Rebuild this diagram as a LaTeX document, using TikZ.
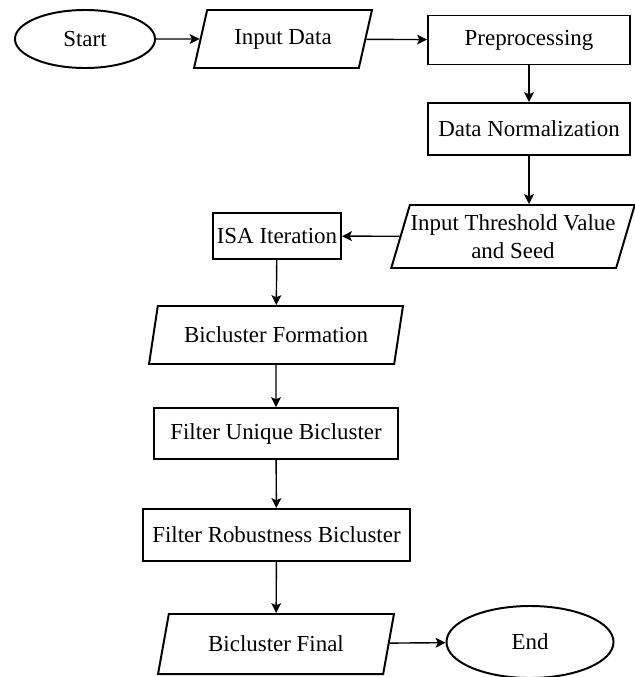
\documentclass[tikz,border=0pt]{standalone}
\usepackage{fontspec}
\setmainfont{Liberation Serif}
\usetikzlibrary{shapes.geometric, arrows, arrows.meta, positioning, calc}
\tikzset{
  terminal/.style={ellipse, draw=black, line width=1.4pt, minimum width=3.5cm, minimum height=1.45cm,
                   inner sep=0pt, text centered},
  proceso/.style={rectangle, draw=black, line width=1.4pt, minimum height=1.25cm, inner sep=0pt,
                  text centered, align=center},
  datos/.style={trapezium, trapezium left angle=67, trapezium right angle=113, trapezium stretches=true,
                draw=black, line width=1.4pt, inner sep=0pt, text centered, align=center},
  arrow/.style={line width=1pt,->,>={Stealth[length=7pt,width=7pt,inset=1.5pt]},color=black}
}
\begin{document}
\begin{tikzpicture}[x=0.025cm, y=-0.025cm, font=\fontsize{16.3}{19.5}\selectfont]
  \useasboundingbox (0,0) rectangle (635,677);
  % Fila superior
  \node (start) [terminal] at (85,39) {Start};
  \node (datain) [datos, minimum width=4.45cm, minimum height=1.45cm] at (283,39) {Input Data};
  \node (prep) [proceso, minimum width=5.05cm, minimum height=1.225cm] at (529,40) {Preprocessing};
  \node (dnorm) [proceso, minimum width=5.05cm, minimum height=1.3cm] at (529,129) {Data Normalization};
  \node (thresh) [datos, minimum width=6.1cm, minimum height=1.575cm] at (513,236.5) {Input Threshold Value\\ and Seed};
  % Columna izquierda
  \node (isa) [proceso, minimum width=3.2cm, minimum height=1.15cm] at (277,236) {ISA Iteration};
  \node (bform) [datos, minimum width=6.35cm, minimum height=1.45cm] at (276,335) {Bicluster Formation};
  \node (funiq) [proceso, minimum width=6.1cm, minimum height=1.275cm] at (276,433.5) {Filter Unique Bicluster};
  \node (frob) [proceso, minimum width=6.675cm, minimum height=1.3cm] at (276.5,535) {Filter Robustness Bicluster};
  \node (bfinal) [datos, minimum width=5.9cm, minimum height=1.5cm] at (276,644) {Bicluster Final};
  \node (end) [terminal, minimum width=4.175cm, minimum height=1.8cm] at (530,642) {End};
  % Conectores
  \draw [arrow] (start) -- (datain);
  \draw [arrow] (datain) -- (prep);
  \draw [arrow] (prep) -- (dnorm);
  \draw [arrow] (dnorm.south) -- (dnorm.south |- thresh.north);
  \draw [arrow] (thresh) -- (isa);
  \draw [arrow] (isa) -- (bform);
  \draw [arrow] (bform) -- (funiq);
  \draw [arrow] (funiq) -- (frob);
  \draw [arrow] (frob) -- (bfinal);
  \draw [arrow] (bfinal) -- (end);
\end{tikzpicture}
\end{document}
